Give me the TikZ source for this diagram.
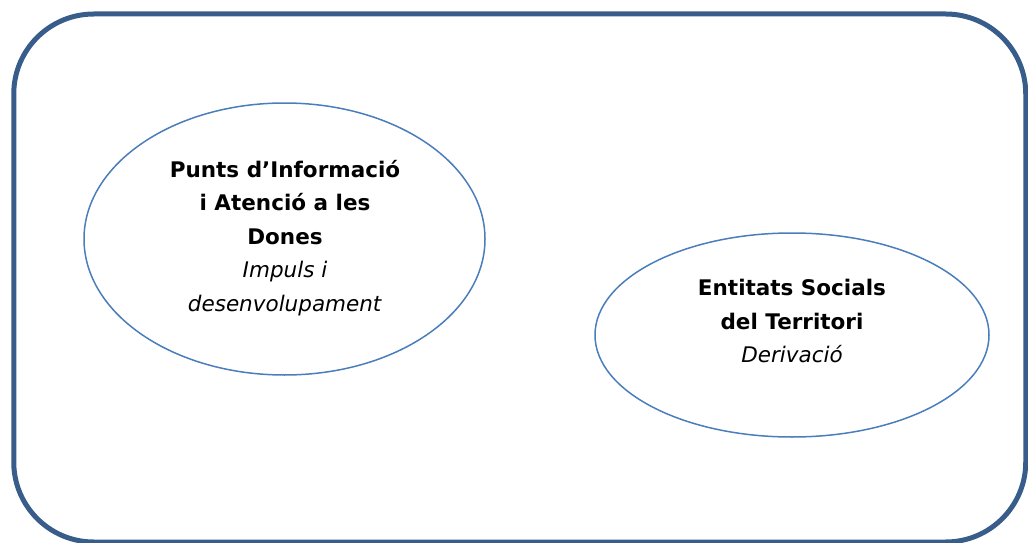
\documentclass[tikz,border=0pt]{standalone}
\usepackage{fontspec}
\setmainfont{DejaVu Sans}
\usetikzlibrary{shapes.geometric}
\definecolor{framecol}{HTML}{385D8A}
\definecolor{ellcol}{HTML}{4A7EBB}
\tikzset{
  framebox/.style={draw=framecol, line width=5pt, rounded corners=80pt, rectangle, inner sep=0pt, minimum width=1012pt, minimum height=528pt},
  oval/.style={draw=ellcol, line width=1.5pt, ellipse, inner sep=0pt},
  label text/.style={align=center, font=\fontsize{21.5}{33.5}\selectfont, text=black, inner sep=0pt}
}
\begin{document}
\begin{tikzpicture}[x=1pt, y=-1pt]
  \useasboundingbox (0,0) rectangle (1028,543);
  \node[framebox] (frame) at (519.75,278) {};
  \node[oval, minimum width=401pt, minimum height=272pt] (pia) at (284.5,239) {};
  \node[oval, minimum width=394pt, minimum height=204pt] (ent) at (792,335) {};
  \node[label text] (piatext) at (285,238) {\textbf{Punts d’Informació}\\\textbf{i Atenció a les}\\\textbf{Dones}\\\textit{Impuls i}\\\textit{desenvolupament}};
  \node[label text] (enttext) at (792,321) {\textbf{Entitats Socials}\\\textbf{del Territori}\\\textit{Derivació}};
\end{tikzpicture}
\end{document}
